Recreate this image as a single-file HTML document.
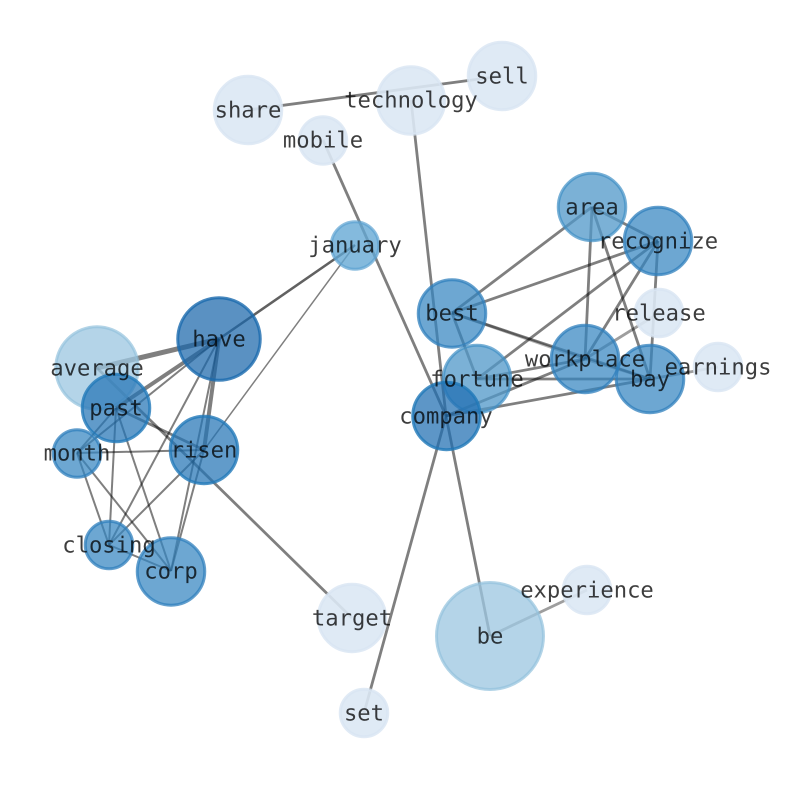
<!DOCTYPE html>
<html><head><meta charset="utf-8"><style>
html,body{margin:0;padding:0;background:#fff;width:794px;height:790px;overflow:hidden}
svg{display:block}
text{font-family:"DejaVu Sans Mono","Liberation Mono",monospace;font-size:22.2px;fill:#000;fill-opacity:.76;text-anchor:middle;text-rendering:geometricPrecision}
.e{stroke:#000;stroke-opacity:.5;fill:none}
.n{stroke-width:3}
</style></head><body>
<svg width="794" height="790" viewBox="0 0 794 790" xmlns="http://www.w3.org/2000/svg">
<g class="e" stroke-width="2.8">
<path d="M248 110L502 76"/><path d="M411 100L446 416"/><path d="M323 140L446 416"/><path d="M446 416L490 636"/><path d="M446 416L364 713"/>
<path d="M97 368L352 618"/><path d="M490 636L587 590" stroke-opacity=".38"/><path d="M650 379L718 367" stroke-opacity=".38"/>
<path d="M592 207L452 313"/><path d="M592 207L658 241"/><path d="M592 207L585 359"/><path d="M592 207L650 379"/>
<path d="M658 241L452 313"/><path d="M658 241L477 379"/><path d="M658 241L585 359"/><path d="M658 241L650 379"/>
<path d="M452 313L477 379"/><path d="M452 313L585 359" stroke-opacity=".3"/><path d="M452 313L650 379"/>
<path d="M477 379L585 359"/><path d="M477 379L650 379"/><path d="M446 416L585 359"/><path d="M446 416L650 379"/>
<path d="M585 359L650 379" stroke-opacity=".3"/><path d="M585 359L659 313" stroke-opacity=".38"/>
<path d="M219 339L97 368" stroke-width="5"/><path d="M219 339L116 408" stroke-width="4"/><path d="M219 339L204 450" stroke-width="4"/><path d="M116 408L204 450"/>
</g>
<g class="e" stroke-width="2">
<path d="M219 339L355 245" stroke-width="2.5" stroke-opacity=".62"/><path d="M219 339L77 453"/><path d="M219 339L109 545"/><path d="M219 339L171 571"/>
<path d="M355 245L204 450" stroke-width="1.5"/><path d="M116 408L77 453"/><path d="M116 408L109 545"/><path d="M116 408L171 571"/>
<path d="M77 453L204 450"/><path d="M77 453L109 545"/><path d="M77 453L171 571"/><path d="M204 450L109 545"/><path d="M204 450L171 571"/><path d="M109 545L171 571"/>
</g>
<g class="n">
<circle cx="248" cy="110" r="33.750" fill="#dce8f4" fill-opacity=".9" stroke="#d8e5f2" stroke-opacity=".8"/>
<circle cx="411" cy="100.500" r="33.750" fill="#dce8f4" fill-opacity=".9" stroke="#d8e5f2" stroke-opacity=".8"/>
<circle cx="502" cy="76" r="33.750" fill="#dce8f4" fill-opacity=".9" stroke="#d8e5f2" stroke-opacity=".8"/>
<circle cx="323" cy="140.500" r="23.750" fill="#dce8f4" fill-opacity=".9" stroke="#d8e5f2" stroke-opacity=".8"/>
<circle cx="659" cy="313" r="23.750" fill="#dce8f4" fill-opacity=".9" stroke="#d8e5f2" stroke-opacity=".8"/>
<circle cx="718" cy="367" r="23.750" fill="#dce8f4" fill-opacity=".9" stroke="#d8e5f2" stroke-opacity=".8"/>
<circle cx="587" cy="590" r="23.750" fill="#dce8f4" fill-opacity=".9" stroke="#d8e5f2" stroke-opacity=".8"/>
<circle cx="364" cy="713" r="23.750" fill="#dce8f4" fill-opacity=".9" stroke="#d8e5f2" stroke-opacity=".8"/>
<circle cx="352" cy="618" r="33.750" fill="#dce8f4" fill-opacity=".9" stroke="#d8e5f2" stroke-opacity=".8"/>
<circle cx="490" cy="636" r="53.500" fill="#9dc7e1" fill-opacity=".77" stroke="#93c2dd" stroke-opacity=".7"/>
<circle cx="97" cy="368" r="41.250" fill="#9dc7e1" fill-opacity=".77" stroke="#93c2dd" stroke-opacity=".7"/>
<circle cx="355" cy="245.500" r="23.750" fill="#62a6d3" fill-opacity=".78" stroke="#5da3d2" stroke-opacity=".7"/>
<circle cx="592" cy="207" r="33.750" fill="#5199c9" fill-opacity=".76" stroke="#3f8fc5" stroke-opacity=".7"/>
<circle cx="477" cy="379" r="33.750" fill="#5199c9" fill-opacity=".76" stroke="#3f8fc5" stroke-opacity=".7"/>
<circle cx="452" cy="313.500" r="33.750" fill="#3585c0" fill-opacity=".72" stroke="#2f7fbc" stroke-opacity=".75"/>
<circle cx="658" cy="241" r="33.750" fill="#3585c0" fill-opacity=".72" stroke="#2f7fbc" stroke-opacity=".75"/>
<circle cx="585" cy="359" r="33.750" fill="#3585c0" fill-opacity=".72" stroke="#2f7fbc" stroke-opacity=".75"/>
<circle cx="650" cy="379" r="33.750" fill="#3585c0" fill-opacity=".72" stroke="#2f7fbc" stroke-opacity=".75"/>
<circle cx="171" cy="571.500" r="33.750" fill="#3585c0" fill-opacity=".72" stroke="#2f7fbc" stroke-opacity=".75"/>
<circle cx="109" cy="545" r="23.750" fill="#3585c0" fill-opacity=".72" stroke="#2f7fbc" stroke-opacity=".75"/>
<circle cx="77" cy="453.500" r="23.750" fill="#3585c0" fill-opacity=".72" stroke="#2f7fbc" stroke-opacity=".75"/>
<circle cx="446.500" cy="416" r="33.750" fill="#1f6db1" fill-opacity=".72" stroke="#1f78b8" stroke-opacity=".8"/>
<circle cx="204" cy="450" r="33.750" fill="#2474b5" fill-opacity=".72" stroke="#2279b9" stroke-opacity=".8"/>
<circle cx="116" cy="408" r="33.750" fill="#2474b5" fill-opacity=".72" stroke="#2279b9" stroke-opacity=".8"/>
<circle cx="219" cy="339" r="41.250" fill="#1a66ab" fill-opacity=".72" stroke="#1a6aae" stroke-opacity=".8"/>
</g>
<g>
<text x="248" y="117.500">share</text>
<text x="411" y="107.500">technology</text>
<text x="502" y="83.500">sell</text>
<text x="323" y="147.500">mobile</text>
<text x="355" y="252.500">january</text>
<text x="592" y="214.500">area</text>
<text x="658" y="248.500">recognize</text>
<text x="659" y="320.500">release</text>
<text x="452" y="320.500">best</text>
<text x="477" y="386.500">fortune</text>
<text x="585" y="366.500">workplace</text>
<text x="650" y="386.500">bay</text>
<text x="718" y="374.500">earnings</text>
<text x="446" y="423.500">company</text>
<text x="219" y="346.500">have</text>
<text x="97" y="375.500">average</text>
<text x="116" y="415.500">past</text>
<text x="77" y="460.500">month</text>
<text x="204" y="457.500">risen</text>
<text x="109" y="552.500">closing</text>
<text x="171" y="578.500">corp</text>
<text x="352" y="625.500">target</text>
<text x="490" y="643.500">be</text>
<text x="587" y="597.500">experience</text>
<text x="364" y="720.500">set</text>
</g>
</svg>
</body></html>
